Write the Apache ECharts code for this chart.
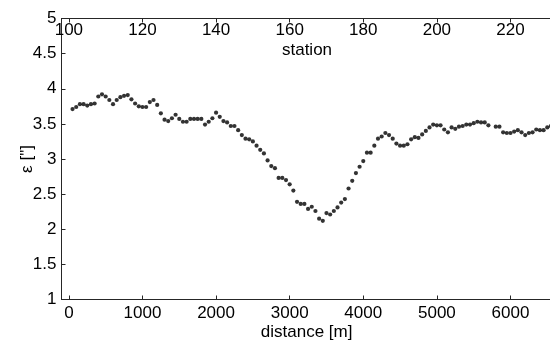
<!DOCTYPE html>
<html>
<head>
<meta charset="utf-8">
<script src="https://cdn.jsdelivr.net/npm/echarts@6/dist/echarts.min.js"></script>
<style>html,body{margin:0;padding:0;background:#fff}#c{width:550px;height:340px}</style>
</head>
<body>
<div id="c"></div>
<script>
const distance = [
  50,100,150,200,250,300,350,400,450,500,550,600,650,700,750,800,850,900,950,1000,1050,1100,1150,1200,
  1250,1300,1350,1400,1450,1500,1550,1600,1650,1700,1750,1800,1850,1900,1950,2000,2050,2100,2150,2200,2250,2300,2350,2400,2450,2500,
  2550,2600,2650,2700,2750,2800,2850,2900,2950,3000,3050,3100,3150,3200,3250,3300,3350,3400,3450,3500,3550,3600,3650,3700,3750,3800,
  3850,3900,3950,4000,4050,4100,4150,4200,4250,4300,4350,4400,4450,4500,4550,4600,4650,4700,4750,4800,4850,4900,4950,5000,5050,5100,
  5150,5200,5250,5300,5350,5400,5450,5500,5550,5600,5650,5700,
  5800,5850,5900,5950,6000,6050,6100,6150,6200,6250,6300,6350,6400,6450,6500,6550
];
const epsilon = [
  3.71,3.74,3.78,3.78,3.76,3.78,3.79,3.89,3.92,3.89,3.84,3.78,3.84,3.88,3.90,3.91,3.85,3.79,3.75,3.74,3.74,3.81,3.84,3.77,
  3.65,3.56,3.54,3.58,3.63,3.57,3.53,3.53,3.57,3.57,3.57,3.57,3.49,3.53,3.58,3.66,3.60,3.54,3.52,3.47,3.47,3.41,3.34,3.29,3.28,3.25,
  3.19,3.13,3.08,2.98,2.90,2.87,2.73,2.73,2.70,2.64,2.55,2.39,2.36,2.36,2.29,2.32,2.26,2.15,2.12,2.23,2.21,2.26,2.31,2.38,2.43,2.58,
  2.69,2.80,2.89,2.97,3.09,3.09,3.19,3.29,3.32,3.37,3.34,3.29,3.22,3.19,3.19,3.21,3.28,3.31,3.30,3.35,3.40,3.45,3.49,3.48,3.48,3.42,
  3.38,3.45,3.43,3.46,3.47,3.49,3.49,3.51,3.53,3.52,3.52,3.48,
  3.46,3.46,3.38,3.37,3.37,3.39,3.41,3.38,3.34,3.37,3.38,3.42,3.41,3.41,3.45,3.47
];
const distanceTicks = [0,1000,2000,3000,4000,5000,6000];
const stationTicks = [100,120,140,160,180,200,220];
const xName = 'distance [m]';
const x2Name = 'station';
const yName = 'ε ["]';

const FONT = '"Liberation Sans", Arial, Helvetica, sans-serif';
const AX = '#262626';
const chart = echarts.init(document.getElementById('c'), null, {renderer: 'canvas'});
const pts = distance.map((d, i) => [d, epsilon[i]]);
const plain = v => String(v);
chart.setOption({
  animation: false,
  backgroundColor: '#fff',
  grid: {left: 61.5, top: 18.5, width: 490.2, height: 281, containLabel: false, outerBoundsMode: 'none'},
  graphic: [{
    type: 'text', x: 307, y: 50,
    style: {text: x2Name, align: 'center', verticalAlign: 'middle', font: '17px ' + FONT, fill: '#000'}
  }],
  xAxis: [
    {
      type: 'value', position: 'bottom', min: -100, max: 6560,
      name: xName, nameLocation: 'middle', nameGap: 24, nameMoveOverlap: false,
      nameTextStyle: {fontFamily: FONT, fontSize: 17, color: '#000', verticalAlign: 'top'},
      axisLine: {show: true, onZero: false, lineStyle: {color: AX, width: 1}},
      axisTick: {show: true, inside: true, length: 4, customValues: distanceTicks, lineStyle: {color: AX}},
      axisLabel: {customValues: distanceTicks, formatter: plain, fontFamily: FONT, fontSize: 17, color: '#000', margin: 5},
      splitLine: {show: false}
    },
    {
      type: 'value', position: 'top', min: 98, max: 231.2,
      axisLine: {show: true, onZero: false, lineStyle: {color: AX, width: 1}},
      axisTick: {show: true, inside: true, length: 4, customValues: stationTicks, lineStyle: {color: AX}},
      axisLabel: {inside: true, customValues: stationTicks, formatter: plain, fontFamily: FONT, fontSize: 17, color: '#000', margin: 3},
      splitLine: {show: false}
    }
  ],
  yAxis: {
    type: 'value', min: 1, max: 5, interval: 0.5,
    name: yName, nameLocation: 'middle', nameGap: 26, nameMoveOverlap: false,
    nameTextStyle: {fontFamily: FONT, fontSize: 17, color: '#000'},
    axisLine: {show: true, onZero: false, lineStyle: {color: AX, width: 1}},
    axisTick: {show: true, inside: true, length: 4, lineStyle: {color: AX}},
    axisLabel: {fontFamily: FONT, fontSize: 17, color: '#000', margin: 5},
    splitLine: {show: false}
  },
  series: [{
    type: 'scatter', xAxisIndex: 0, yAxisIndex: 0,
    data: pts, symbol: 'circle', symbolSize: 4.2,
    itemStyle: {color: '#000'}
  }]
});
</script>
</body>
</html>
